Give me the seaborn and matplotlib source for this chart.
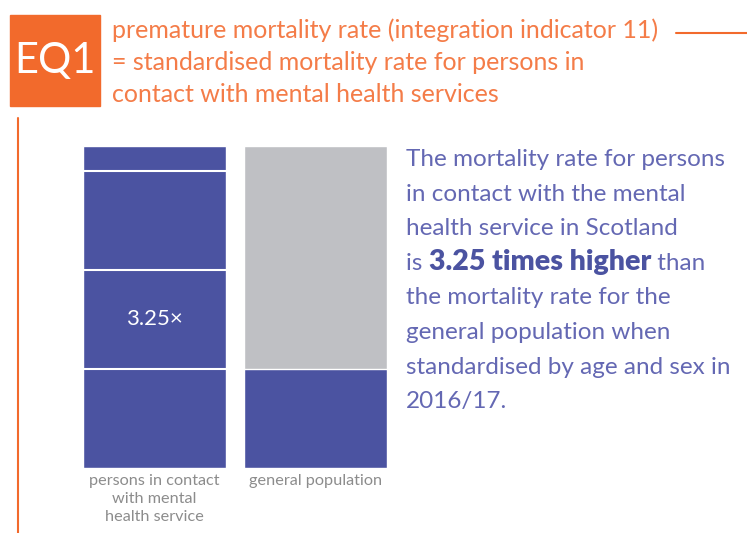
import matplotlib
matplotlib.use("Agg")
import matplotlib.pyplot as plt
import matplotlib.patches as mpatches
import seaborn as sns
import pandas as pd

sns.set_style("white")
plt.rcParams['font.family'] = ['Lato', 'DejaVu Sans']

# data
groups = ['persons in contact\nwith mental\nhealth service', 'general population']
rates = [3.25, 1.0]          # relative mortality rate
background = [3.25, 3.25]     # full scale bar behind
unit_lines = [1, 2, 3]        # white separators in the first bar
ratio_label = '3.25\u00d7'

title_lines = ['premature mortality rate (integration indicator 11)',
               '= standardised mortality rate for persons in',
               'contact with mental health services']
body_lines = ['The mortality rate for persons',
              'in contact with the mental',
              'health service in Scotland',
              None,
              'the mortality rate for the',
              'general population when',
              'standardised by age and sex in',
              '2016/17.']
highlight = ['is ', '3.25 times higher', ' than']

orange = '#f26a2c'
orange_txt = '#f47c48'
blue = '#4b53a1'
blue_txt = '#6468b3'
grey = '#bfc0c4'
grey_txt = '#8c8c8c'

W, H = 747, 533
fig = plt.figure(figsize=(W / 100, H / 100), dpi=100)

def fx(px):
    return px / W

def fy(py):
    return 1 - py / H

# header box
fig.patches.append(mpatches.Rectangle((fx(10), fy(106)), fx(90), 91 / H,
                                      transform=fig.transFigure, color=orange, zorder=0))
fig.text(fx(55), fy(61), 'EQ1', color='white', fontsize=30,
         ha='center', va='center')
for i, line in enumerate(title_lines):
    fig.text(fx(112), fy(38 + i * 32), line, color=orange_txt, fontsize=18,
             ha='left', va='baseline')
fig.add_artist(plt.Line2D([fx(676), 1.0], [fy(33), fy(33)], color=orange, lw=1.5,
                          transform=fig.transFigure))
fig.add_artist(plt.Line2D([fx(18), fx(18)], [fy(118), 0], color=orange, lw=1.5,
                          transform=fig.transFigure))

# bars
ax = fig.add_axes([fx(83), fy(468), fx(387 - 83), (468 - 146) / H])
df = pd.DataFrame({'group': groups, 'rate': rates, 'bg': background})
w = 0.888
sns.barplot(data=df, x='group', y='bg', color=grey, width=w, saturation=1, ax=ax)
ax.patches[0].set_alpha(0)
sns.barplot(data=df, x='group', y='rate', color=blue, width=w, saturation=1, ax=ax)
first = ax.patches[2]
ax.hlines(unit_lines, first.get_x(), first.get_x() + first.get_width(),
          colors='white', lw=1.5)
ax.text(0, 1.5, ratio_label, color='white', fontsize=16,
        ha='center', va='center')
ax.set_xlim(-w / 2, 1 + w / 2)
ax.set_ylim(0, 3.25)
ax.set_xlabel('')
ax.set_ylabel('')
ax.set_yticks([])
ax.tick_params(axis='x', length=0, pad=4, labelsize=11.7, labelcolor=grey_txt)
for lbl in ax.get_xticklabels():
    lbl.set_linespacing(1.4)
    lbl.set_va('top')
sns.despine(ax=ax, left=True, bottom=True)

# body text
x0 = fx(406)
for i, line in enumerate(body_lines):
    if line is not None:
        fig.text(x0, fy(166 + i * 34.6), line, color=blue_txt, fontsize=17.5,
                 ha='left', va='baseline')

fig.canvas.draw()
renderer = fig.canvas.get_renderer()
xpos = x0
yb = fy(166 + 3 * 34.6)
for j, part in enumerate(highlight):
    bold = j == 1
    t = fig.text(xpos, yb, part, color=blue if bold else blue_txt,
                 fontsize=20.5 if bold else 17.5,
                 fontweight='heavy' if bold else 'normal',
                 ha='left', va='baseline')
    bb = t.get_window_extent(renderer)
    xpos = bb.x1 / W

fig.savefig('out.png', dpi=100)
